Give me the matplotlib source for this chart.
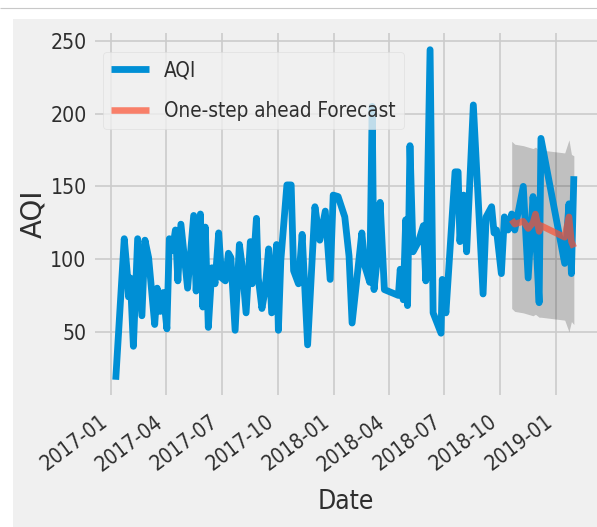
import os
import matplotlib
matplotlib.use('Agg')
import matplotlib.pyplot as plt
import matplotlib.font_manager as fm
import pandas as pd
from matplotlib.patches import Rectangle
from matplotlib.lines import Line2D

plt.style.use('fivethirtyeight')
plt.rcParams['font.family'] = ['DejaVu Sans']

# ---------------- data ----------------
dates = [
    '2017-01-08', '2017-01-22', '2017-01-27', '2017-01-29', '2017-02-01', '2017-02-06',
    '2017-02-13', '2017-02-20', '2017-02-25', '2017-03-03', '2017-03-13', '2017-03-17',
    '2017-03-22', '2017-03-27', '2017-04-02', '2017-04-06', '2017-04-11', '2017-04-16',
    '2017-04-20', '2017-04-25', '2017-05-06', '2017-05-16', '2017-05-20', '2017-05-27',
    '2017-05-31', '2017-06-04', '2017-06-09', '2017-06-15', '2017-06-20', '2017-06-26',
    '2017-07-01', '2017-07-07', '2017-07-12', '2017-07-16', '2017-07-23', '2017-07-30',
    '2017-08-03', '2017-08-10', '2017-08-17', '2017-08-20', '2017-08-27', '2017-08-30',
    '2017-09-05', '2017-09-10', '2017-09-16', '2017-09-21', '2017-09-29', '2017-10-02',
    '2017-10-06', '2017-10-16', '2017-10-23', '2017-10-27', '2017-11-04', '2017-11-10',
    '2017-11-19', '2017-12-01', '2017-12-09', '2017-12-18', '2017-12-26', '2017-12-31',
    '2018-01-08', '2018-01-19', '2018-01-26', '2018-01-31', '2018-02-16', '2018-02-21',
    '2018-03-01', '2018-03-05', '2018-03-08', '2018-03-12', '2018-03-18', '2018-03-25',
    '2018-04-17', '2018-04-20', '2018-04-25', '2018-04-29', '2018-05-02', '2018-05-06',
    '2018-05-11', '2018-05-20', '2018-05-28', '2018-06-01', '2018-06-08', '2018-06-13',
    '2018-06-26', '2018-06-28', '2018-07-04', '2018-07-19', '2018-07-24', '2018-07-27',
    '2018-08-02', '2018-08-07', '2018-08-18', '2018-09-03', '2018-09-08', '2018-09-17',
    '2018-09-21', '2018-09-25', '2018-10-03', '2018-10-08', '2018-10-14', '2018-10-20',
    '2018-10-25', '2018-11-08', '2018-11-16', '2018-11-24', '2018-11-28', '2018-12-04',
    '2018-12-07', '2019-01-15', '2019-01-22', '2019-01-26', '2019-01-30',
]
aqi = [
    17, 114, 90, 74, 87, 40,
    114, 61, 113, 101, 55, 80,
    64, 77, 52, 114, 106, 120,
    85, 124, 80, 130, 78, 131,
    67, 122, 53, 94, 83, 118,
    87, 85, 104, 101, 51, 110,
    97, 63, 112, 83, 128, 87,
    66, 78, 107, 63, 110, 51,
    99, 151, 151, 92, 83, 117,
    41, 136, 113, 133, 86, 144,
    143, 129, 102, 56, 118, 95,
    84, 205, 79, 95, 139, 79,
    75, 93, 72, 127, 68, 178,
    105, 112, 123, 85, 244, 63,
    49, 86, 63, 160, 160, 112,
    144, 105, 206, 76, 129, 136,
    118, 120, 90, 129, 120, 131,
    120, 150, 87, 143, 120, 70,
    183, 97, 138, 90, 157,
]

fc_dates = ['2018-10-20', '2018-10-25', '2018-11-08', '2018-11-16', '2018-11-24', '2018-11-28',
            '2018-12-04', '2018-12-07', '2019-01-15', '2019-01-22', '2019-01-26', '2019-01-30']
fc_mean = [127, 124, 126, 121, 125, 131, 119, 123, 115, 129, 112, 108]
fc_lower = [66, 64, 63, 62, 61, 62, 60, 60, 58, 50, 57, 55]
fc_upper = [181, 179, 178, 177, 176, 177, 175, 175, 173, 182, 172, 171]

tick_dates = ['2017-01-01', '2017-04-01', '2017-07-01', '2017-10-01', '2018-01-01',
              '2018-04-01', '2018-07-01', '2018-10-01', '2019-01-01']
tick_labels = ['2017-01', '2017-04', '2017-07', '2017-10', '2018-01',
               '2018-04', '2018-07', '2018-10', '2019-01']
y_ticks = [50, 100, 150, 200, 250]

# ---------------- fonts ----------------
cond = [f for f in fm.fontManager.ttflist
        if os.path.basename(f.fname) == 'DejaVuSansCondensed.ttf']
if cond:
    def fp(size):
        return fm.FontProperties(fname=cond[0].fname, size=size / 0.9)
else:
    def fp(size):
        return fm.FontProperties(family='DejaVu Sans', size=size)

# ---------------- figure ----------------
W, H = 597, 527
fig = plt.figure(figsize=(W / 100, H / 100), dpi=100, facecolor='white')
fig.patches.append(Rectangle((13 / W, 0), 1 - 13 / W, (H - 19) / H,
                             transform=fig.transFigure, facecolor='#f0f0f0',
                             edgecolor='none', zorder=-10))
fig.lines.append(Line2D([0, 1], [1 - 8 / H] * 2, transform=fig.transFigure,
                        color='#c8c8c8', lw=0.8))

ax_l, ax_r, ax_t, ax_b = 95, 597, 33, 395
ax = fig.add_axes([ax_l / W, (H - ax_b) / H, (ax_r - ax_l) / W, (ax_b - ax_t) / H])
ax.set_facecolor('#f0f0f0')

x = pd.to_datetime(dates)
fx = pd.to_datetime(fc_dates)
ax.plot(x, aqi, color='#008fd5', lw=4.9, label='AQI', solid_capstyle='butt')
ax.plot(fx, fc_mean, color='#fc4f30', alpha=0.7, lw=4.7,
        label='One-step ahead Forecast', solid_capstyle='butt')
ax.fill_between(fx, fc_lower, fc_upper, color='k', alpha=0.2, lw=0)

base = pd.Timestamp('2017-01-01')
ax.set_xlim(base - pd.Timedelta(days=27), base + pd.Timedelta(days=797))
ax.set_ylim(6.5, 255.5)

ax.set_xticks(pd.to_datetime(tick_dates))
ax.set_xticklabels(tick_labels, rotation=37, ha='right')
ax.set_yticks(y_ticks)
ax.set_yticklabels([str(v) for v in y_ticks])
for lab in ax.get_xticklabels():
    lab.set_fontproperties(fp(13.5))
for lab in ax.get_yticklabels():
    lab.set_fontproperties(fp(13.8))
ax.tick_params(axis='x', length=0, pad=12, colors='#2e2e2e')
ax.tick_params(axis='y', length=0, pad=6, colors='#2e2e2e')

ax.grid(True, color='#cbcbcb', lw=1.2)
for s in ax.spines.values():
    s.set_visible(False)

ax.set_xlabel('Date', fontproperties=fp(17), color='#2e2e2e')
ax.xaxis.set_label_coords(0.5, (ax_b - 489) / (ax_b - ax_t))
ax.set_ylabel('AQI', fontsize=20, family='DejaVu Sans', color='#2e2e2e')
ax.yaxis.set_label_coords((47 - ax_l) / (ax_r - ax_l), 0.5)

leg = ax.legend(loc='upper left',
                bbox_to_anchor=((103 - ax_l) / (ax_r - ax_l), (ax_b - 52) / (ax_b - ax_t)),
                borderaxespad=0, prop=fp(13.4), handlelength=1.84, handletextpad=0.72,
                borderpad=0.4, labelspacing=1.0, fancybox=True, framealpha=0.8,
                facecolor='#f0f0f0', edgecolor='#dcdcdc')
for t in leg.get_texts():
    t.set_color('#2e2e2e')

fig.savefig('out.png', dpi=100, facecolor='white')
